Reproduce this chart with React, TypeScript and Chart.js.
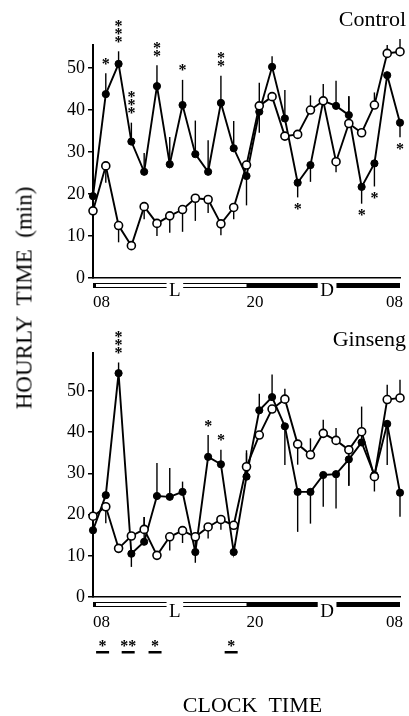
import React, { useEffect, useRef } from 'react';
import { Chart, registerables } from 'chart.js';

Chart.register(...registerables);

const SERIF = '"Liberation Serif", "Times New Roman", serif';

// categories: clock hours across 24h (08 -> 08)
const hourLabels = ['08', '09', '10', '11', '12', '13', '14', '15', '16', '17', '18', '19', '20', '21', '22', '23', '00', '01', '02', '03', '04', '05', '06', '07', '08'];
const xTickHours = [0, 12, 24];
const xTickTexts = ['08', '20', '08'];
const yTickValues = [0, 10, 20, 30, 40, 50];
const darkPeriod = [12, 24];
const periodLabels = ['L', 'D'];
const periodLabelHours = [6.4, 18.3];

// Control panel
const controlClosed = [19.5, 43.8, 51, 32.5, 25.3, 45.7, 27.1, 41.2, 29.5, 25.3, 41.7, 30.9, 24.3, 39.6, 50.3, 38, 22.7, 26.9, 42.2, 41, 38.8, 21.7, 27.3, 48.3, 37];
const controlClosedErr = [0, 5, 3, 4.5, 4.5, 5, 6.5, 6, 8, 7.5, 6.5, 6.5, -7, -5, 2.5, 6.8, -3.5, -4, 4, 6, 4.5, -4, -5.5, 0, -3.5];
const controlOpen = [16, 26.7, 12.5, 7.7, 17, 13, 14.8, 16.3, 19, 18.7, 12.9, 16.8, 26.9, 41, 43.2, 33.8, 34.2, 40, 42.2, 27.7, 36.8, 34.6, 41.2, 53.5, 53.9];
const controlOpenErr = [0, -4, -4, 0, -3, -3, -4, -5.3, -5.4, -3.2, -2.7, -2.8, 0, 5.5, 0, 0, 0, 3.5, 0, -2.5, 6.5, 0, 3, 2, 3];
const controlStarIdx = [1, 2, 3, 5, 7, 10, 16, 21, 22, 24];
const controlStarCount = [1, 3, 3, 2, 1, 2, 1, 1, 1, 1];
const controlStarUp = [true, true, true, true, true, true, false, false, false, false];

// Ginseng panel
const ginsengClosed = [16.2, 24.7, 54.3, 10.5, 13.4, 24.5, 24.3, 25.5, 10.9, 34, 32.2, 10.9, 29.2, 45.3, 48.5, 41.4, 25.5, 25.5, 29.6, 29.8, 33.4, 37.5, 29.6, 42, 25.3];
const ginsengClosedErr = [0, 0, 2.6, -3.2, 6, 8, 7, 2.5, -2.6, 5.3, 3.5, 0, 5.7, 4, 5.5, -9.4, -9.7, -7.7, -7.7, -8.3, -6.4, 8.7, -4, -10, -5.8];
const ginsengOpen = [19.6, 21.9, 11.8, 14.8, 16.4, 10.1, 14.6, 16.1, 14.6, 17, 18.8, 17.4, 31.6, 39.3, 45.6, 48, 37.1, 34.5, 39.7, 38, 35.7, 40.1, 29.2, 47.9, 48.3];
const ginsengOpenErr = [0, -4, 0, 0, 3, 0, -3.3, -3, -3, -2.8, -2.5, 0, 4, 0, 0, 2.5, -5, 4, 3.3, 3, -8.7, 0, 0, 3.6, 4.4];
const ginsengStarIdx = [2, 9, 10];
const ginsengStarCount = [3, 1, 1];
const ginsengStarUp = [true, true, true];

// group-difference stars under the Ginseng time axis
const diffStarHours = [0.75, 2.75, 4.85, 10.8];
const diffStarTexts = ['*', '**', '*', '*'];

type PanelCfg = {
  title: string;
  titleDy: number;
  padTop: number;
  xAxisHeight: number;
  yMax: number;
  open: number[];
  openErr: number[];
  closed: number[];
  closedErr: number[];
  starIdx: number[];
  starCount: number[];
  starUp: boolean[];
  barDy: number;
  labelDy: number;
  tickDy: number;
  diffRow: boolean;
  xTitle: boolean;
};

function drawStar(ctx: CanvasRenderingContext2D, text: string, cx: number, cy: number) {
  const m = ctx.measureText(text);
  const asc = m.actualBoundingBoxAscent;
  const desc = m.actualBoundingBoxDescent;
  ctx.fillText(text, cx, cy + (asc - desc) / 2);
}

function makeDecor(cfg: PanelCfg) {
  return {
    id: 'decor',
    beforeDatasetsDraw(chart: any) {
      const { ctx } = chart;
      const x = chart.scales.x;
      const y = chart.scales.y;
      ctx.save();
      ctx.strokeStyle = '#000';
      ctx.lineWidth = 1.4;
      const sets: [number[], number[]][] = [[cfg.open, cfg.openErr], [cfg.closed, cfg.closedErr]];
      sets.forEach(([vals, errs]) => {
        vals.forEach((v, i) => {
          const e = errs[i];
          if (!e) return;
          const px = x.getPixelForValue(i);
          ctx.beginPath();
          ctx.moveTo(px, y.getPixelForValue(v));
          ctx.lineTo(px, y.getPixelForValue(v + e));
          ctx.stroke();
        });
      });
      ctx.restore();
    },
    afterDraw(chart: any) {
      const { ctx, chartArea } = chart;
      const x = chart.scales.x;
      const y = chart.scales.y;
      ctx.save();
      ctx.fillStyle = '#000';
      ctx.strokeStyle = '#000';

      // panel title
      ctx.font = `22px ${SERIF}`;
      ctx.textAlign = 'right';
      ctx.textBaseline = 'alphabetic';
      ctx.fillText(cfg.title, chartArea.right + 6, chartArea.top + cfg.titleDy);

      // significance stars near points
      ctx.font = `bold 16px ${SERIF}`;
      ctx.textAlign = 'center';
      cfg.starIdx.forEach((i, k) => {
        const px = x.getPixelForValue(i);
        const n = cfg.starCount[k];
        const up = cfg.starUp[k];
        const vals = cfg.closed;
        const e = cfg.closedErr[i];
        for (let s = 0; s < n; s++) {
          let cy;
          if (up) {
            cy = y.getPixelForValue(vals[i] + Math.max(e, 0)) - 12 - s * 8;
          } else {
            cy = y.getPixelForValue(vals[i] + Math.min(e, 0)) + 9 + s * 8;
          }
          drawStar(ctx, '*', px, cy);
        }
      });

      // light/dark bar
      const x0 = x.getPixelForValue(0);
      const x1 = x.getPixelForValue(24);
      const bTop = chartArea.bottom + cfg.barDy;
      const bH = 5;
      ctx.lineWidth = 1;
      ctx.strokeRect(x0 + 0.5, bTop + 0.5, x1 - x0 - 1, bH - 1);
      const d0 = x.getPixelForValue(darkPeriod[0]);
      const d1 = x.getPixelForValue(darkPeriod[1]);
      ctx.fillRect(d0, bTop, d1 - d0, bH);
      ctx.fillRect(x0, bTop, 3, bH);
      ctx.font = `19px ${SERIF}`;
      ctx.textAlign = 'center';
      periodLabels.forEach((t, k) => {
        const px = x.getPixelForValue(periodLabelHours[k]);
        const w = ctx.measureText(t).width + 5;
        ctx.fillStyle = '#fff';
        ctx.fillRect(px - w / 2, bTop - 1, w, bH + 2);
        ctx.fillStyle = '#000';
        ctx.fillText(t, px, chartArea.bottom + cfg.labelDy);
      });

      // clock tick labels
      ctx.font = `17px ${SERIF}`;
      const aligns = ['left', 'left', 'right'];
      xTickHours.forEach((h, k) => {
        ctx.textAlign = aligns[k];
        const px = x.getPixelForValue(h) + (k === 2 ? 3 : 0);
        ctx.fillText(xTickTexts[k], px, chartArea.bottom + cfg.tickDy);
      });

      // difference stars row
      if (cfg.diffRow) {
        ctx.font = `bold 16px ${SERIF}`;
        ctx.textAlign = 'center';
        diffStarHours.forEach((h, k) => {
          const px = x.getPixelForValue(h);
          drawStar(ctx, diffStarTexts[k], px, chartArea.bottom + 46);
          ctx.fillRect(px - 6.5, chartArea.bottom + 54, 13, 2.5);
        });
      }

      if (cfg.xTitle) {
        ctx.font = `22px ${SERIF}`;
        ctx.textAlign = 'center';
        ctx.fillText('CLOCK  TIME', (chartArea.left + chartArea.right) / 2 + 6, chartArea.bottom + 115);
      }
      ctx.restore();
    },
  };
}

function makeChart(canvas: HTMLCanvasElement, cfg: PanelCfg) {
  return new Chart(canvas, {
    type: 'line',
    data: {
      labels: hourLabels,
      datasets: [
        {
          data: cfg.open,
          borderColor: '#000',
          borderWidth: 1.9,
          pointRadius: 4,
          pointBackgroundColor: '#fff',
          pointBorderColor: '#000',
          pointBorderWidth: 1.6,
          tension: 0,
          clip: false,
        } as any,
        {
          data: cfg.closed,
          borderColor: '#000',
          borderWidth: 1.9,
          pointRadius: 3.6,
          pointBackgroundColor: '#000',
          pointBorderColor: '#000',
          pointBorderWidth: 1,
          tension: 0,
          clip: false,
        } as any,
      ],
    },
    options: {
      responsive: false,
      animation: false,
      events: [],
      layout: { padding: { top: cfg.padTop, right: 9, left: 0, bottom: 0 } },
      plugins: { legend: { display: false }, tooltip: { enabled: false }, title: { display: false } },
      scales: {
        x: {
          type: 'category',
          offset: false,
          grid: { display: false },
          border: { display: true, color: '#000', width: 1.5 },
          ticks: { display: false },
          afterFit: (s: any) => {
            s.height = cfg.xAxisHeight;
          },
        },
        y: {
          min: 0,
          max: cfg.yMax,
          grid: { display: true, drawOnChartArea: false, drawTicks: true, tickLength: 5, color: '#000', lineWidth: 1.5 },
          border: { display: true, color: '#000', width: 2 },
          ticks: { color: '#000', padding: 3, font: { family: SERIF, size: 18 } },
          afterBuildTicks: (s: any) => {
            s.ticks = yTickValues.map((v) => ({ value: v }));
          },
          afterFit: (s: any) => {
            s.width = 93;
          },
        },
      },
    } as any,
    plugins: [makeDecor(cfg) as any],
  });
}

const controlCfg: PanelCfg = {
  title: 'Control',
  titleDy: -19,
  padTop: 45,
  xAxisHeight: 32,
  yMax: 55.5,
  open: controlOpen,
  openErr: controlOpenErr,
  closed: controlClosed,
  closedErr: controlClosedErr,
  starIdx: controlStarIdx,
  starCount: controlStarCount,
  starUp: controlStarUp,
  barDy: 5,
  labelDy: 18,
  tickDy: 28.5,
  diffRow: false,
  xTitle: false,
};

const ginsengCfg: PanelCfg = {
  title: 'Ginseng',
  titleDy: -7,
  padTop: 43,
  xAxisHeight: 119,
  yMax: 59.2,
  open: ginsengOpen,
  openErr: ginsengOpenErr,
  closed: ginsengClosed,
  closedErr: ginsengClosedErr,
  starIdx: ginsengStarIdx,
  starCount: ginsengStarCount,
  starUp: ginsengStarUp,
  barDy: 5,
  labelDy: 19.5,
  tickDy: 30,
  diffRow: true,
  xTitle: true,
};

export default function App() {
  const topRef = useRef<HTMLCanvasElement>(null);
  const botRef = useRef<HTMLCanvasElement>(null);

  useEffect(() => {
    const c1 = makeChart(topRef.current!, controlCfg);
    const c2 = makeChart(botRef.current!, ginsengCfg);
    return () => {
      c1.destroy();
      c2.destroy();
    };
  }, []);

  return (
    <div style={{ position: 'absolute', left: 0, top: 0, width: 409, height: 716, background: '#fff', overflow: 'hidden' }}>
      <canvas ref={topRef} width={409} height={310} style={{ position: 'absolute', left: 0, top: 0, width: 409, height: 310 }} />
      <canvas ref={botRef} width={409} height={406} style={{ position: 'absolute', left: 0, top: 310, width: 409, height: 406 }} />
      <div
        style={{
          position: 'absolute',
          left: 24,
          top: 298,
          transform: 'translate(-50%, -50%) rotate(-90deg)',
          font: `23px ${SERIF}`,
          whiteSpace: 'pre',
          lineHeight: 1,
          color: '#000',
        }}
      >
        {'HOURLY  TIME  (min)'}
      </div>
    </div>
  );
}
